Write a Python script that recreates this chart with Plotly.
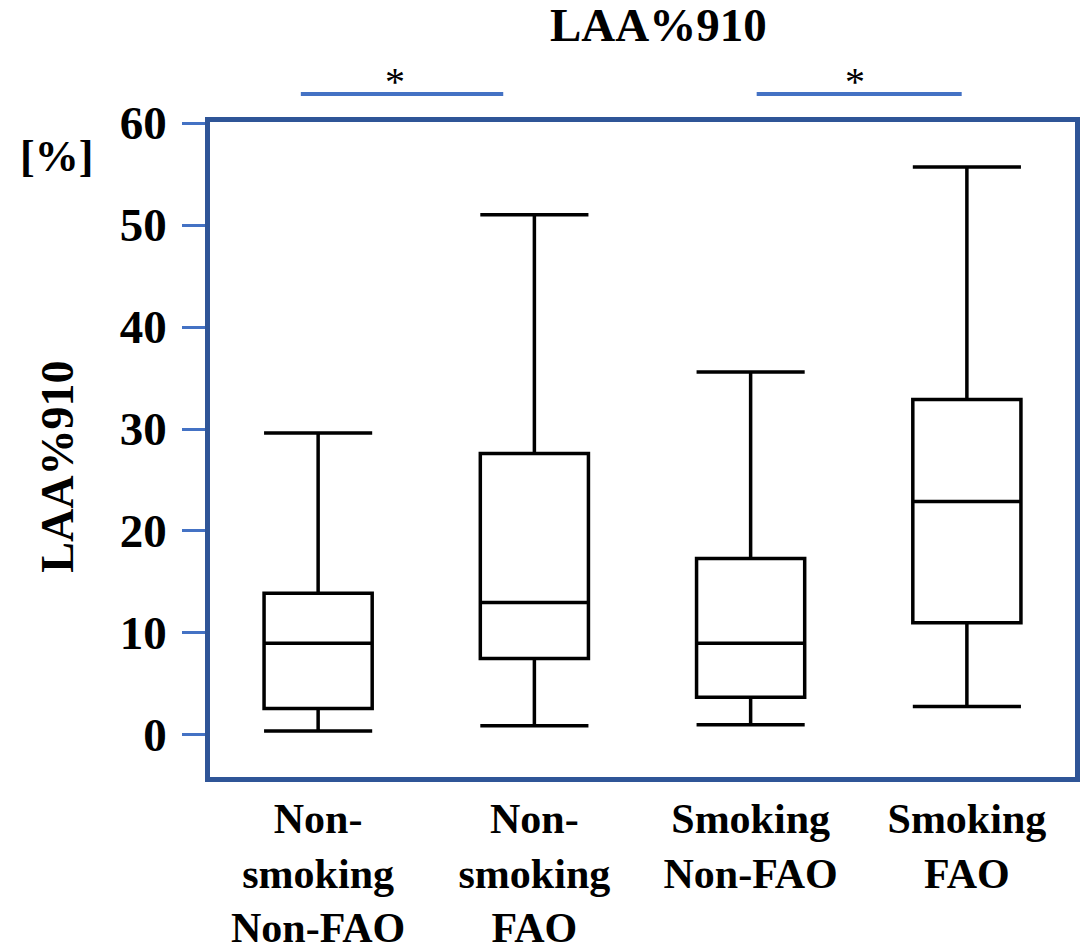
import plotly.graph_objects as go

# Groups and five-number summaries of LAA%910 (%)
categories = ["Non-<br>smoking<br>Non-FAO", "Non-<br>smoking<br>FAO",
              "Smoking<br>Non-FAO", "Smoking<br>FAO"]
lower_whisker = [0.4, 0.9, 1.0, 2.8]
q1_values = [2.6, 7.5, 3.7, 11.0]
median_values = [9.0, 13.0, 9.0, 22.9]
q3_values = [13.9, 27.6, 17.3, 32.9]
upper_whisker = [29.6, 51.0, 35.6, 55.7]
y_ticks = [0, 10, 20, 30, 40, 50, 60]

SERIF = "Liberation Serif"
FRAME = "#2F5597"
ACCENT = "#4472C4"

fig = go.Figure()
for i, cat in enumerate(categories):
    fig.add_trace(go.Box(
        x=[cat],
        q1=[q1_values[i]], median=[median_values[i]], q3=[q3_values[i]],
        lowerfence=[lower_whisker[i]], upperfence=[upper_whisker[i]],
        width=0.5, whiskerwidth=1,
        line=dict(color="black", width=3.5),
        fillcolor="white",
        boxpoints=False,
        showlegend=False,
        hoverinfo="skip",
    ))

fig.update_layout(
    width=1082, height=950,
    margin=dict(l=210, r=7, t=122, b=173, autoexpand=False),
    paper_bgcolor="white", plot_bgcolor="white",
    font=dict(family=SERIF, color="black"),
    xaxis=dict(
        type="category", categoryorder="array", categoryarray=categories,
        range=[-0.5, 3.5], automargin=False,
        showline=True, mirror=True, linecolor=FRAME, linewidth=4.5,
        showgrid=False, zeroline=False,
        ticks="", ticklabelstandoff=1,
        tickfont=dict(family=SERIF, size=42, weight="bold", color="black"),
    ),
    yaxis=dict(
        range=[-4.12, 60.1], automargin=False,
        tickvals=y_ticks, ticktext=[str(v) for v in y_ticks],
        showline=True, mirror=True, linecolor=FRAME, linewidth=4.5,
        showgrid=False, zeroline=False,
        ticks="outside", ticklen=23, tickwidth=3, tickcolor=ACCENT,
        ticklabelstandoff=6,
        tickfont=dict(family=SERIF, size=47, weight="bold", color="black"),
    ),
)

# Significance brackets above the plot area
for x0, x1 in [(0.105, 0.339), (0.632, 0.869)]:
    fig.add_shape(type="line", xref="paper", yref="paper",
                  x0=x0, x1=x1, y0=1.0427, y1=1.0427,
                  line=dict(color=ACCENT, width=4))
for xc in [0.2139, 0.7457]:
    fig.add_annotation(xref="paper", yref="paper", x=xc, y=1.024,
                       text="*", showarrow=False,
                       xanchor="center", yanchor="bottom",
                       font=dict(family=SERIF, size=40, color="black"))

# Chart title, axis title and unit
fig.add_annotation(xref="paper", yref="paper", x=0.518, y=1.148,
                   text="LAA%910", showarrow=False,
                   xanchor="center", yanchor="middle",
                   font=dict(family=SERIF, size=47, weight="bold"))
fig.add_annotation(xref="paper", yref="paper", x=-0.1763, y=0.473,
                   text="LAA%910", showarrow=False, textangle=-90,
                   xanchor="center", yanchor="middle",
                   font=dict(family=SERIF, size=46, weight="bold"))
fig.add_annotation(xref="paper", yref="paper", x=-0.178, y=0.9466,
                   text="[%]", showarrow=False,
                   xanchor="center", yanchor="middle",
                   font=dict(family=SERIF, size=44, weight="bold"))

fig.write_html("out.html")
